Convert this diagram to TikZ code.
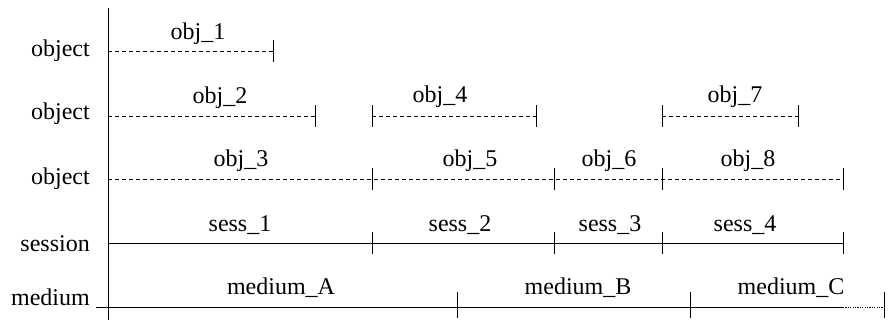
\documentclass[tikz,border=0pt]{standalone}
\usepackage{fontspec}
\setmainfont{Liberation Serif}
\begin{document}
\begin{tikzpicture}[x=1pt,y=-1pt,
  lbl/.style={font=\fontsize{24}{28}\selectfont,inner sep=0pt,anchor=base},
  rowlbl/.style={font=\fontsize{24}{28}\selectfont,inner sep=0pt,anchor=base east},
  dash line/.style={line width=0.7pt,dash pattern=on 4pt off 3pt},
  solid line/.style={line width=0.9pt},
  tickmark/.style={line width=0.9pt}]
\useasboundingbox (0,0) rectangle (889,320);
\clip (0,0) rectangle (889,320);
% axis
\coordinate (axtop) at (108,8);
\coordinate (axbot) at (108,322);
\draw[solid line] (axtop) -- (axbot);
% row labels
\node[rowlbl] (r1) at (90,57) {object};
\node[rowlbl] (r2) at (90,120) {object};
\node[rowlbl] (r3) at (90,185) {object};
\node[rowlbl] (r4) at (90,252) {session};
\node[rowlbl] (r5) at (90,306) {medium};
% row 1
\coordinate (a0) at (108,51); \coordinate (a1) at (273,51);
\draw[dash line] (a0) -- (a1);
\draw[tickmark] ([yshift=-11pt]a1) -- ([yshift=11pt]a1);
\node[lbl] (obj1) at (198,40) {obj\_1};
% row 2
\coordinate (b0) at (108,116); \coordinate (b1) at (315,116);
\coordinate (b2) at (372,116); \coordinate (b3) at (536,116);
\coordinate (b4) at (662,116); \coordinate (b5) at (798,116);
\draw[dash line] (b0) -- (b1);
\draw[dash line] (b2) -- (b3);
\draw[dash line] (b4) -- (b5);
\foreach \c in {b1,b2,b3,b4,b5}
  \draw[tickmark] ([yshift=-11pt]\c) -- ([yshift=11pt]\c);
\node[lbl] (obj2) at (220,104) {obj\_2};
\node[lbl] (obj4) at (440,103) {obj\_4};
\node[lbl] (obj7) at (735,103) {obj\_7};
% row 3
\coordinate (c0) at (108,179); \coordinate (c1) at (372,179);
\coordinate (c2) at (554,179); \coordinate (c3) at (662,179);
\coordinate (c4) at (843,179);
\draw[dash line] (c0) -- (c4);
\foreach \c in {c1,c2,c3,c4}
  \draw[tickmark] ([yshift=-11pt]\c) -- ([yshift=11pt]\c);
\node[lbl] (obj3) at (241,167) {obj\_3};
\node[lbl] (obj5) at (470,167) {obj\_5};
\node[lbl] (obj6) at (609,167) {obj\_6};
\node[lbl] (obj8) at (748,167) {obj\_8};
% session
\coordinate (s0) at (108,243); \coordinate (s1) at (372,243);
\coordinate (s2) at (554,243); \coordinate (s3) at (662,243);
\coordinate (s4) at (843,243);
\draw[solid line] (s0) -- (s4);
\foreach \c in {s1,s2,s3,s4}
  \draw[tickmark] ([yshift=-11pt]\c) -- ([yshift=11pt]\c);
\node[lbl] (sess1) at (240,232) {sess\_1};
\node[lbl] (sess2) at (460,232) {sess\_2};
\node[lbl] (sess3) at (610,232) {sess\_3};
\node[lbl] (sess4) at (745,232) {sess\_4};
% medium
\coordinate (m0) at (96,307); \coordinate (m1) at (457,307);
\coordinate (m2) at (690,307); \coordinate (m3) at (843,307);
\coordinate (m4) at (884,307);
\draw[solid line] (m0) -- (m3);
\draw[line width=0.9pt,dash pattern=on 1.2pt off 1.2pt] (m3) -- (m4);
\foreach \c in {m1,m2,m4}
  \draw[tickmark] ([yshift=-11pt]\c) -- ([yshift=15pt]\c);
\node[lbl] (mA) at (281,295) {medium\_A};
\node[lbl] (mB) at (578,295) {medium\_B};
\node[lbl] (mC) at (791,295) {medium\_C};
\end{tikzpicture}
\end{document}
